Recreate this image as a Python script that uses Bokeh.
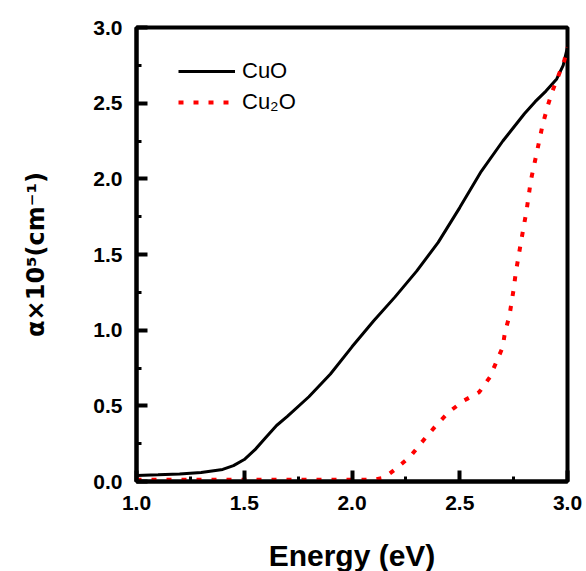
from bokeh.plotting import figure
from bokeh.models import SingleIntervalTicker, Range1d, Legend, LegendItem, NumeralTickFormatter
from bokeh.embed import file_html
from bokeh.resources import INLINE

# CuO absorption
cuo_energy = [1.0, 1.1, 1.2, 1.3, 1.4, 1.45, 1.5, 1.55, 1.6, 1.65, 1.7, 1.8, 1.9, 2.0, 2.1,
              2.2, 2.3, 2.4, 2.5, 2.6, 2.7, 2.8, 2.85, 2.9, 2.95, 2.98, 3.0]
cuo_alpha = [0.04, 0.044, 0.05, 0.06, 0.08, 0.105, 0.145, 0.21, 0.29, 0.37, 0.43, 0.56, 0.71,
             0.89, 1.06, 1.22, 1.39, 1.58, 1.81, 2.05, 2.25, 2.43, 2.51, 2.58, 2.66, 2.75, 2.87]

# Cu2O absorption
cu2o_energy = [1.0, 1.5, 2.0, 2.1, 2.15, 2.2, 2.27, 2.33, 2.39, 2.45, 2.52, 2.59, 2.64, 2.67,
               2.70, 2.71, 2.73, 2.75, 2.76, 2.785, 2.81, 2.83, 2.86, 2.885, 2.91, 2.93, 2.96,
               2.985, 3.0]
cu2o_alpha = [0.012, 0.012, 0.012, 0.012, 0.025, 0.08, 0.165, 0.27, 0.37, 0.46, 0.535, 0.59,
              0.69, 0.79, 0.89, 0.99, 1.09, 1.27, 1.38, 1.59, 1.79, 1.99, 2.19, 2.36, 2.49,
              2.58, 2.69, 2.78, 2.87]

FONT = "Liberation Sans"

p = figure(frame_width=431, frame_height=454, min_border_left=136, min_border_right=18,
           min_border_top=27, min_border_bottom=88, output_backend="svg",
           toolbar_location=None, x_range=Range1d(1.0, 3.0), y_range=Range1d(0.0, 3.0))
p.grid.visible = False
p.outline_line_color = "black"
p.outline_line_width = 4
p.background_fill_color = "white"
p.border_fill_color = "white"

l1 = p.line(cuo_energy, cuo_alpha, line_color="black", line_width=3)
l2 = p.line(cu2o_energy, cu2o_alpha, line_color="red", line_width=4, line_dash="5 10")

for ax in (p.xaxis[0], p.yaxis[0]):
    ax.ticker = SingleIntervalTicker(interval=0.5, num_minor_ticks=2)
    ax.formatter = NumeralTickFormatter(format="0.0")
    ax.axis_line_width = 4
    ax.axis_line_color = "black"
    ax.major_tick_in = 11
    ax.major_tick_out = 0
    ax.minor_tick_in = 5
    ax.minor_tick_out = 0
    ax.major_tick_line_width = 4
    ax.minor_tick_line_width = 3
    ax.major_label_text_font = FONT
    ax.major_label_text_font_style = "bold"
    ax.major_label_text_font_size = "21px"
    ax.major_label_text_color = "black"
    ax.major_label_standoff = 14
    ax.axis_label_text_font_style = "bold"
    ax.axis_label_text_color = "black"

p.xaxis.axis_label = "Energy (eV)"
p.xaxis.axis_label_text_font = FONT
p.xaxis.axis_label_text_font_size = "30px"
p.xaxis.axis_label_standoff = 26
p.yaxis.axis_label = "α×10⁵(cm⁻¹)"
p.yaxis.axis_label_text_font = "DejaVu Sans"
p.yaxis.axis_label_text_font_size = "24px"
p.yaxis.axis_label_standoff = 40

legend = Legend(items=[LegendItem(label="CuO", renderers=[l1]),
                       LegendItem(label="Cu₂O", renderers=[l2])],
                location=(42, 366), padding=0, margin=0, spacing=5,
                glyph_width=57, glyph_height=20, label_height=20, label_standoff=7,
                border_line_color=None, background_fill_alpha=0,
                label_text_font=FONT, label_text_font_size="22px", label_text_color="black")
p.add_layout(legend)

open("out.html", "w").write(file_html(p, INLINE))
